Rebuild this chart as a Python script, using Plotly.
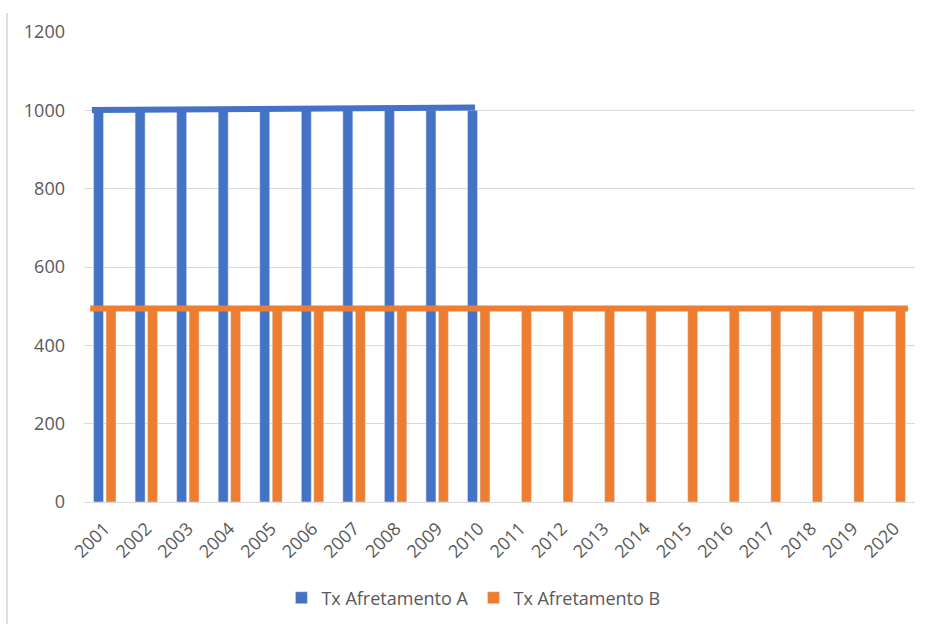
import plotly.graph_objects as go

years = list(range(2001, 2021))
year_labels = [str(y) for y in years]
series_a_name = "Tx Afretamento A"
series_b_name = "Tx Afretamento B"
series_a = [1000, 1000, 1000, 1000, 1000, 1000, 1000, 1000, 1000, 1000,
            None, None, None, None, None, None, None, None, None, None]
series_b = [490] * 20

# overline drawn across the tops of each series (start value, end value)
overline_a_values = [1001, 1007]
overline_a_years = [2001, 2010]
overline_b_values = [494, 494]
overline_b_years = [2001, 2020]

BLUE = "#4472C4"
ORANGE = "#ED7D31"
FONT = "Open Sans"
TXT = "#595959"

fig = go.Figure()
fig.add_trace(go.Bar(x=years, y=series_a, name=series_a_name, marker_color=BLUE))
fig.add_trace(go.Bar(x=years, y=series_b, name=series_b_name, marker_color=ORANGE))

fig.add_trace(go.Scatter(
    x=[overline_a_years[0] - 0.31, overline_a_years[1] - 0.09],
    y=overline_a_values, mode="lines", line=dict(color=BLUE, width=6),
    showlegend=False, hoverinfo="skip"))
fig.add_trace(go.Scatter(
    x=[overline_b_years[0] - 0.35, overline_b_years[1] + 0.33],
    y=overline_b_values, mode="lines", line=dict(color=ORANGE, width=6),
    showlegend=False, hoverinfo="skip"))

fig.update_layout(
    width=926, height=625,
    margin=dict(l=84, r=11, t=32, b=123, autoexpand=False),
    paper_bgcolor="white", plot_bgcolor="white",
    barmode="group", bargap=0.4, bargroupgap=0.2,
    font=dict(family=FONT, color=TXT, size=18),
    legend=dict(orientation="h", x=0.4686, xanchor="center",
                yref="container", y=(625 - 598) / 625, yanchor="middle",
                font=dict(size=18, color=TXT), itemwidth=30, traceorder="normal"),
    shapes=[dict(type="line", xref="paper", yref="paper",
                 x0=-77 / 831, x1=-77 / 831, y0=(502 - 13) / 470, y1=(502 - 624) / 470,
                 line=dict(color="#e0e0e0", width=2))],
)
fig.update_xaxes(
    type="linear", range=[2000.5, 2020.5], tickmode="array",
    tickvals=years, ticktext=year_labels, tickangle=-45,
    showgrid=False, showline=True, linecolor="#d9d9d9", linewidth=1,
    ticks="", tickfont=dict(size=18, color=TXT), zeroline=False,
    automargin=False, ticklabelstandoff=8,
)
fig.update_yaxes(
    range=[0, 1200], dtick=200, showgrid=True, gridcolor="#d9d9d9", gridwidth=1,
    zeroline=False, showline=False, ticks="", ticklabelstandoff=18,
    tickfont=dict(size=18, color=TXT), automargin=False,
)

fig.write_html("out.html")
